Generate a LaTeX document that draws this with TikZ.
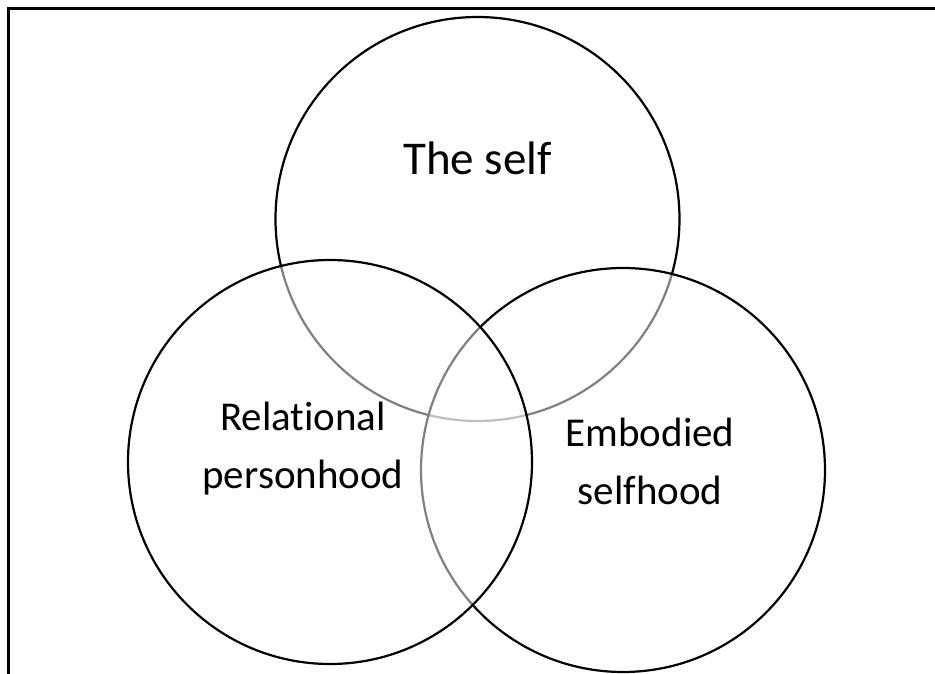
\documentclass[tikz,border=0pt]{standalone}
\usepackage{fontspec}
\setmainfont[Ligatures=NoCommon]{Carlito}
\usepackage{tikz}
\usetikzlibrary{positioning}

\begin{document}
\begin{tikzpicture}[x=1pt, y=-1pt,
  venn/.style={draw, circle, line width=2.2pt, minimum size=404pt, inner sep=0pt,
    fill=white, fill opacity=0.5, draw opacity=1},
  label/.style={align=center, font=\fontsize{41}{58}\selectfont}]
  \useasboundingbox (0,0) rectangle (935,674);
  % frame, cut off at the right and bottom
  \draw[line width=2.2pt] (8.5,674) -- (8.5,8.5) -- (935,8.5);
  % the three circles, later ones lie over earlier ones
  \node[venn] (self) at (477.5,219) {};
  \node[venn] (embodied) at (623,470) {};
  \node[venn] (relational) at (330,462) {};
  % labels
  \node[label, font=\fontsize{47}{58}\selectfont] (selftext) at (477.5,158) {The self};
  \node[label] (reltext) at (303,449) {Relational\\personhood};
  \node[label] (embtext) at (650,461) {Embodied\\selfhood};
\end{tikzpicture}
\end{document}
